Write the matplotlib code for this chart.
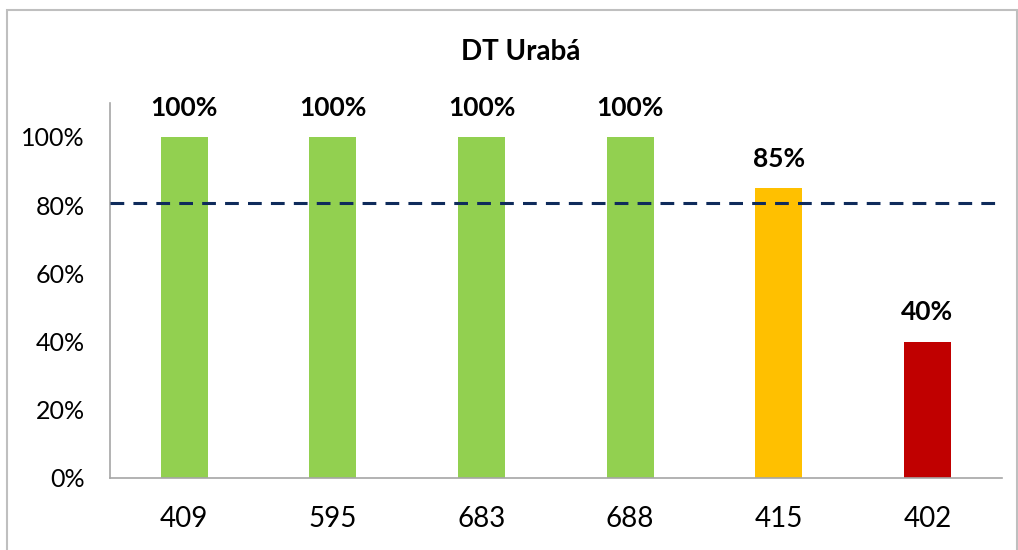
import matplotlib.pyplot as plt
from matplotlib.patches import Rectangle

# Data
categories = ["409", "595", "683", "688", "415", "402"]
values = [1.00, 1.00, 1.00, 1.00, 0.85, 0.40]
bar_colors = ["#92D050", "#92D050", "#92D050", "#92D050", "#FFC000", "#C00000"]
target = 0.807
title = "DT Urabá"

plt.rcParams['font.family'] = ['Lato', 'DejaVu Sans']

fig = plt.figure(figsize=(10.18, 5.5), dpi=100)
ax = fig.add_axes([0.108, 0.131, 0.876, 0.682])

# outer chart border
fig.patches.append(Rectangle((7 / 1018, -0.1), 1010 / 1018, 1.1 - 10 / 550,
                             transform=fig.transFigure, fill=False,
                             edgecolor="#BFBFBF", linewidth=1.5))

x = range(len(categories))
ax.bar(x, values, width=0.316, color=bar_colors, zorder=2)
ax.axhline(target, color="#0F2B5B", linestyle=(0, (4.5, 3)), linewidth=2.2, zorder=3)

for i, v in enumerate(values):
    ax.annotate(f"{v:.0%}", (i, v), xytext=(0, 21), textcoords="offset points",
                ha="center", va="center", fontsize=19, fontweight="bold")

ax.set_xlim(-0.5, len(categories) - 0.5)
ax.set_ylim(0, 1.1)
ax.set_yticks([0, 0.2, 0.4, 0.6, 0.8, 1.0])
ax.set_yticklabels([f"{t:.0%}" for t in [0, 0.2, 0.4, 0.6, 0.8, 1.0]], fontsize=18)
ax.set_xticks(list(x))
ax.set_xticklabels(categories, fontsize=20)
ax.tick_params(axis="both", length=0)
ax.tick_params(axis="x", pad=20)
ax.tick_params(axis="y", pad=18)

for s in ["top", "right"]:
    ax.spines[s].set_visible(False)
for s in ["left", "bottom"]:
    ax.spines[s].set_color("#A6A6A6")
    ax.spines[s].set_linewidth(1.2)

fig.text(0.511, 0.905, title, ha="center", va="center", fontsize=20, fontweight="bold")

fig.savefig("out.png", dpi=100)
